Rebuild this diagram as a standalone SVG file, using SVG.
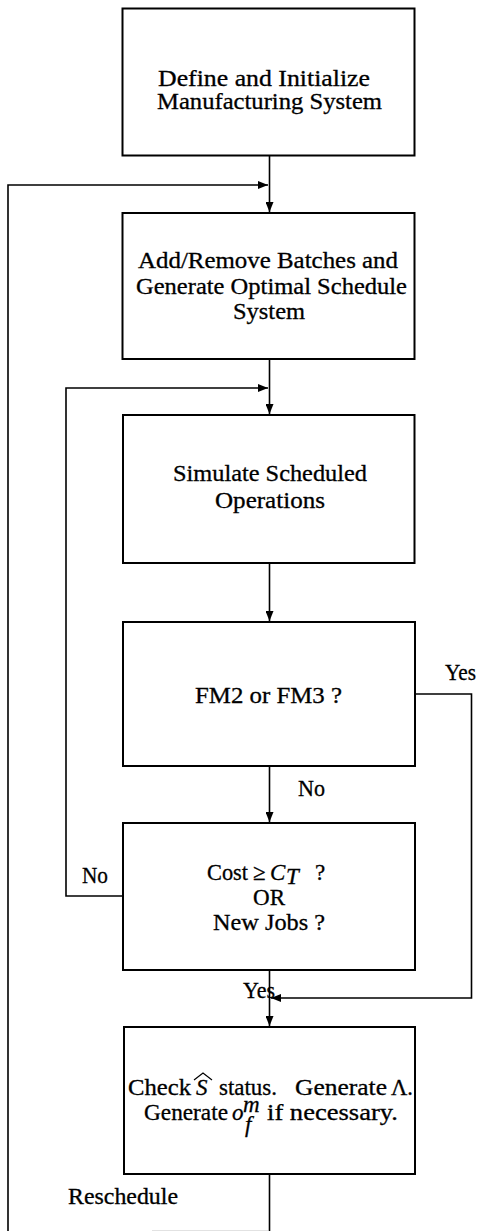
<svg xmlns="http://www.w3.org/2000/svg" width="478" height="1231" viewBox="0 0 478 1231">
  <style>
    .box { fill: #ffffff; stroke: #000000; stroke-width: 2; }
    .wire { fill: none; stroke: #000000; stroke-width: 1.6; }
    .lbl { font-family: "Liberation Serif", "Times New Roman", serif; font-size: 23px; fill: #000000; stroke: #000000; stroke-width: 0.3; }
    .it { font-style: italic; }
  </style>
  <defs>
    <marker id="arrow" markerUnits="userSpaceOnUse" markerWidth="10" markerHeight="8" refX="10" refY="4" orient="auto">
      <path d="M0,0 L10,4 L0,8 z" fill="#000000"/>
    </marker>
  </defs>

  <rect width="478" height="1231" fill="#ffffff"/>

  <!-- connectors -->
  <g id="connectors">
    <line class="wire" x1="269.5" y1="155" x2="269.5" y2="212" marker-end="url(#arrow)"/>
    <polyline class="wire" points="269.5,1174 269.5,1231"/>
    <polyline class="wire" points="8,1231 8,185 268,185" marker-end="url(#arrow)"/>
    <line class="wire" x1="269.5" y1="359" x2="269.5" y2="414" marker-end="url(#arrow)"/>
    <polyline class="wire" points="122,896 66,896 66,388 268,388" marker-end="url(#arrow)"/>
    <line class="wire" x1="269.5" y1="563" x2="269.5" y2="621" marker-end="url(#arrow)"/>
    <line class="wire" x1="269.5" y1="766" x2="269.5" y2="822" marker-end="url(#arrow)"/>
    <polyline class="wire" points="415,694 471.5,694 471.5,998 271,998" marker-end="url(#arrow)"/>
    <line class="wire" x1="269.5" y1="970" x2="269.5" y2="1026" marker-end="url(#arrow)"/>
    <line x1="152" y1="1230.5" x2="268" y2="1230.5" stroke="#e2e2e2" stroke-width="1"/>
    <text class="lbl" x="445" y="680" textLength="31" lengthAdjust="spacingAndGlyphs">Yes</text>
    <text class="lbl" x="298" y="796" textLength="27" lengthAdjust="spacingAndGlyphs">No</text>
    <text class="lbl" x="82" y="883" textLength="26" lengthAdjust="spacingAndGlyphs">No</text>
    <text class="lbl" x="243" y="998" textLength="32" lengthAdjust="spacingAndGlyphs">Yes</text>
    <text class="lbl" x="68" y="1204" textLength="110" lengthAdjust="spacingAndGlyphs">Reschedule</text>
  </g>

  <!-- define / initialize -->
  <g id="init">
    <rect class="box" x="122.5" y="8.5" width="292" height="147"/>
    <text class="lbl" x="158" y="86" textLength="212" lengthAdjust="spacingAndGlyphs">Define and Initialize</text>
    <text class="lbl" x="157" y="109" textLength="225" lengthAdjust="spacingAndGlyphs">Manufacturing System</text>
  </g>

  <!-- schedule generation -->
  <g id="schedule">
    <rect class="box" x="122.5" y="213" width="292" height="146"/>
    <text class="lbl" x="138" y="268" textLength="260" lengthAdjust="spacingAndGlyphs">Add/Remove Batches and</text>
    <text class="lbl" x="136" y="294" textLength="271" lengthAdjust="spacingAndGlyphs">Generate Optimal Schedule</text>
    <text class="lbl" x="233" y="319" textLength="72" lengthAdjust="spacingAndGlyphs">System</text>
  </g>

  <!-- simulation -->
  <g id="simulate">
    <rect class="box" x="123" y="415" width="291.5" height="148"/>
    <text class="lbl" x="173" y="481" textLength="194" lengthAdjust="spacingAndGlyphs">Simulate Scheduled</text>
    <text class="lbl" x="215" y="508" textLength="110" lengthAdjust="spacingAndGlyphs">Operations</text>
  </g>

  <!-- failure mode test -->
  <g id="fm-test">
    <rect class="box" x="123" y="622" width="292" height="144"/>
    <text class="lbl" x="195" y="703" textLength="147" lengthAdjust="spacingAndGlyphs">FM2 or FM3 ?</text>
  </g>

  <!-- cost / new jobs test -->
  <g id="cost-test">
    <rect class="box" x="123" y="823" width="292" height="147"/>
    <text class="lbl" x="207" y="880" textLength="41" lengthAdjust="spacingAndGlyphs">Cost</text>
    <text class="lbl" x="253" y="880">≥</text>
    <text class="lbl it" x="270" y="880">C</text>
    <text class="lbl it" x="286" y="884" font-size="15">T</text>
    <text class="lbl" x="315" y="880">?</text>
    <text class="lbl" x="253" y="905" textLength="32" lengthAdjust="spacingAndGlyphs">OR</text>
    <text class="lbl" x="213" y="930" textLength="112" lengthAdjust="spacingAndGlyphs">New Jobs ?</text>
  </g>

  <!-- status check -->
  <g id="status-check">
    <rect class="box" x="124" y="1027" width="291" height="147"/>
    <text class="lbl" x="128" y="1095" textLength="63" lengthAdjust="spacingAndGlyphs">Check</text>
    <text class="lbl it" x="196" y="1095">S</text>
    <path d="M194,1080 L203,1073 L212,1080" fill="none" stroke="#000000" stroke-width="1.2"/>
    <text class="lbl" x="219" y="1095" textLength="58" lengthAdjust="spacingAndGlyphs">status.</text>
    <text class="lbl" x="295" y="1095" textLength="92" lengthAdjust="spacingAndGlyphs">Generate</text>
    <text class="lbl" x="391" y="1095" textLength="22" lengthAdjust="spacingAndGlyphs">Λ.</text>
    <text class="lbl" x="144" y="1120" textLength="84" lengthAdjust="spacingAndGlyphs">Generate</text>
    <text class="lbl it" x="232" y="1120">o</text>
    <text class="lbl it" x="243" y="1112" font-size="13">m</text>
    <text class="lbl it" x="245" y="1132" font-size="13">f</text>
    <text class="lbl" x="267" y="1120" textLength="131" lengthAdjust="spacingAndGlyphs">if necessary.</text>
  </g>
</svg>
